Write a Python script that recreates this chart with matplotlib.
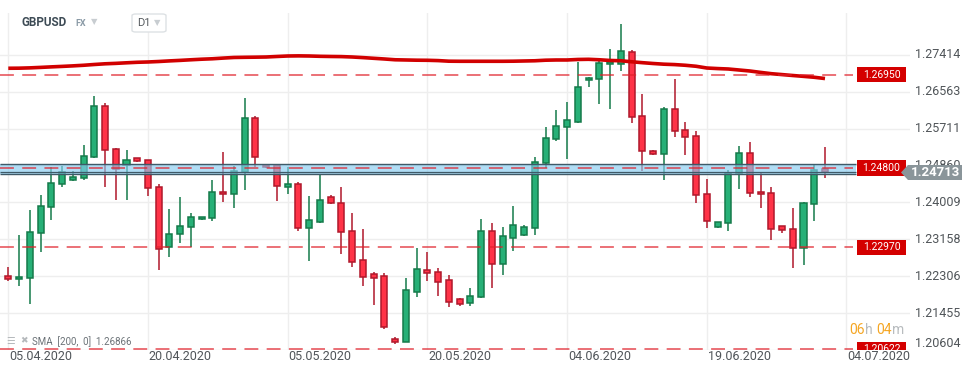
import matplotlib
matplotlib.use("Agg")
import matplotlib.pyplot as plt
import matplotlib.transforms as mtransforms
from matplotlib.patches import Rectangle, Polygon, FancyBboxPatch

plt.rcParams['font.family'] = ['Roboto', 'DejaVu Sans']
plt.rcParams['lines.scale_dashes'] = False

# GBPUSD daily candles
opens = [1.22310, 1.22233, 1.22256, 1.23295, 1.23895, 1.24425, 1.24518, 1.24564, 1.25048, 1.26225,
         1.25233, 1.24864, 1.25025, 1.24979, 1.24356, 1.22972, 1.23272, 1.23433, 1.23618, 1.23641,
         1.24241, 1.24195, 1.24718, 1.25948, 1.24864, 1.24864, 1.24371, 1.24425, 1.23410, 1.23564,
         1.24125, 1.23986, 1.23340, 1.22671, 1.22348, 1.22302, 1.20856, 1.20795, 1.21948, 1.22441,
         1.22394, 1.22210, 1.21771, 1.21695, 1.21818, 1.23348, 1.22579, 1.23179, 1.23248, 1.23410,
         1.24910, 1.25464, 1.25741, 1.25872, 1.26825, 1.26848, 1.27194, 1.27202, 1.27471, 1.25995,
         1.25187, 1.25118, 1.26156, 1.25672, 1.25533, 1.24195, 1.23433, 1.23526, 1.24679, 1.25141,
         1.24241, 1.24218, 1.23457, 1.23387, 1.22964, 1.23964, 1.24772]
highs = [1.22510, 1.23256, 1.23833, 1.24179, 1.24817, 1.24848, 1.24733, 1.25333, 1.26463, 1.26310,
         1.25256, 1.25217, 1.25033, 1.24994, 1.24433, 1.23856, 1.24141, 1.23756, 1.23672, 1.24525,
         1.25179, 1.24848, 1.26425, 1.26002, 1.24871, 1.24879, 1.24817, 1.24471, 1.24156, 1.24664,
         1.24179, 1.24371, 1.23771, 1.23394, 1.22394, 1.22371, 1.20895, 1.22256, 1.22948, 1.22864,
         1.22494, 1.22333, 1.21795, 1.22041, 1.23625, 1.23533, 1.23440, 1.23925, 1.23487, 1.25063,
         1.25741, 1.26133, 1.26318, 1.27256, 1.26910, 1.27333, 1.27540, 1.28125, 1.27525, 1.26510,
         1.25210, 1.26202, 1.26856, 1.25864, 1.25648, 1.24549, 1.23557, 1.24756, 1.25310, 1.25402,
         1.24679, 1.24364, 1.23457, 1.23880, 1.24010, 1.24887, 1.25287]
lows = [1.22203, 1.22087, 1.21656, 1.22872, 1.23602, 1.24371, 1.24510, 1.24525, 1.25040, 1.24371,
        1.24064, 1.24064, 1.24941, 1.24156, 1.22449, 1.22756, 1.23079, 1.22972, 1.23610, 1.23587,
        1.24025, 1.23887, 1.24294, 1.24833, 1.24810, 1.24048, 1.24194, 1.23356, 1.22664, 1.23541,
        1.23963, 1.22817, 1.22525, 1.22087, 1.21641, 1.21087, 1.20741, 1.20787, 1.21833, 1.22202,
        1.21856, 1.21602, 1.21625, 1.21625, 1.21810, 1.22041, 1.22333, 1.22894, 1.23240, 1.23263,
        1.24795, 1.25433, 1.25002, 1.25833, 1.26679, 1.26287, 1.26171, 1.27048, 1.25848, 1.24741,
        1.25102, 1.24533, 1.25518, 1.25110, 1.24003, 1.23426, 1.23426, 1.23357, 1.24318, 1.24141,
        1.23887, 1.23141, 1.23310, 1.22503, 1.22564, 1.23587, 1.24579]
closes = [1.22249, 1.22279, 1.23318, 1.23925, 1.24448, 1.24718, 1.24587, 1.25071, 1.26225, 1.25210,
          1.24771, 1.24987, 1.24971, 1.24333, 1.22926, 1.23272, 1.23464, 1.23664, 1.23664, 1.24241,
          1.24195, 1.24733, 1.25948, 1.25064, 1.24817, 1.24387, 1.24425, 1.23410, 1.23595, 1.24056,
          1.23986, 1.23317, 1.22641, 1.22294, 1.22271, 1.21141, 1.20795, 1.21979, 1.22471, 1.22371,
          1.22179, 1.21718, 1.21671, 1.21848, 1.23348, 1.22579, 1.23225, 1.23479, 1.23433, 1.24932,
          1.25487, 1.25764, 1.25902, 1.26664, 1.26871, 1.27225, 1.27256, 1.27494, 1.25971, 1.25187,
          1.25118, 1.26156, 1.25648, 1.25510, 1.24172, 1.23572, 1.23549, 1.24687, 1.25141, 1.24218,
          1.24195, 1.23387, 1.23364, 1.22964, 1.23987, 1.24756, 1.24713]

# SMA(200) per candle
sma = [1.27103, 1.27105, 1.27112, 1.27123, 1.27135, 1.27146, 1.27158, 1.27172, 1.27190, 1.27206,
       1.27216, 1.27229, 1.27241, 1.27248, 1.27259, 1.27273, 1.27285, 1.27299, 1.27312, 1.27322,
       1.27338, 1.27352, 1.27356, 1.27359, 1.27363, 1.27375, 1.27386, 1.27389, 1.27386, 1.27379,
       1.27375, 1.27372, 1.27363, 1.27349, 1.27333, 1.27317, 1.27299, 1.27294, 1.27289, 1.27287,
       1.27280, 1.27266, 1.27264, 1.27264, 1.27264, 1.27264, 1.27264, 1.27266, 1.27271, 1.27276,
       1.27289, 1.27294, 1.27294, 1.27306, 1.27310, 1.27299, 1.27283, 1.27276, 1.27253, 1.27232,
       1.27213, 1.27197, 1.27188, 1.27172, 1.27149, 1.27109, 1.27096, 1.27086, 1.27063, 1.27040,
       1.27008, 1.26978, 1.26957, 1.26936, 1.26916, 1.26895, 1.26866]

level_prices = [1.26950, 1.24800, 1.22970, 1.20622]
level_labels = ["1.26950", "1.24800", "1.22970", "1.20622"]
zone_top, zone_bottom = 1.24888, 1.24657
last_price = 1.24713

ytick_vals = [1.20604, 1.21455, 1.22306, 1.23158, 1.24009, 1.24860, 1.25711, 1.26563, 1.27414]
ytick_labels = ["1.20604", "1.21455", "1.22306", "1.23158", "1.24009", "1.24860", "1.25711", "1.26563", "1.27414"]
xtick_idx = [0, 13, 26, 39, 52, 65, 78]
xtick_labels = ["05.04.2020", "20.04.2020", "05.05.2020", "20.05.2020", "04.06.2020", "19.06.2020", "04.07.2020"]

W, H = 974, 375
fig = plt.figure(figsize=(W / 100, H / 100), dpi=100)
ax = fig.add_axes([0, 25 / H, 910 / W, 337 / H])
for s in ax.spines.values():
    s.set_visible(False)
ax.set_xlim(-0.772, 83.91)
ax.set_ylim(1.20603, 1.28378)

# grid
ax.set_yticks(ytick_vals)
ax.set_xticks(xtick_idx)
ax.tick_params(length=0, labelleft=False, labelbottom=False)
ax.grid(True, color="#eeeeee", lw=1)
ax.set_axisbelow(True)

# candles
idx = list(range(len(opens)))
for i in idx:
    o, h, l, c = opens[i], highs[i], lows[i], closes[i]
    up = c >= o
    face = "#27b077" if up else "#ff3347"
    edge = "#157a4a" if up else "#b0182b"
    ax.vlines(i, l, h, color=edge, lw=1.1, zorder=2)
    ax.add_patch(Rectangle((i - 0.28, min(o, c)), 0.56, abs(c - o), facecolor=face,
                           edgecolor=edge, lw=1.1, zorder=3))

# SMA 200
ax.plot(idx, sma, color="#d10000", lw=2.6, zorder=4, solid_capstyle="butt")

# blue zone with last price line
ax.add_patch(Rectangle((-0.772, zone_bottom), 79.7, zone_top - zone_bottom, facecolor="#86ccf0",
                       alpha=0.65, edgecolor="none", zorder=5))
ax.hlines([zone_top, zone_bottom], -0.772, 78.93, color="#3f5a68", lw=1.0, zorder=6)
ax.hlines(last_price, -0.772, 78.93, color="#3f5a68", lw=0.9, zorder=6)

# dashed levels + red price boxes
bt = mtransforms.blended_transform_factory(ax.transAxes, ax.transData)
for p, lab in zip(level_prices, level_labels):
    ax.hlines(p, -0.772, 78.6, color="#e0202a", lw=1.2, alpha=0.75, linestyles=(0, (10, 6)), zorder=7)
    ax.add_patch(Rectangle((857 / 910, p - 0.00175), 49 / 910, 0.0035, facecolor="#d40000",
                           edgecolor="none", transform=bt, zorder=8, clip_on=True))
    ax.text(881.5 / 910, p, lab, transform=bt, color="white", fontsize=7.5, ha="center",
            va="center", zorder=9, clip_on=True)

# y tick labels on the right
for v, lab in zip(ytick_vals, ytick_labels):
    yy = v + 0.00138 if v == ytick_vals[0] else v
    ax.text(915 / 910, yy, lab, transform=bt, color="#505559", fontsize=9, ha="left",
            va="center", clip_on=False)

# x tick labels
xt = mtransforms.blended_transform_factory(ax.transData, ax.transAxes)
for i, lab in zip(xtick_idx, xtick_labels):
    ax.text(i + 0.08, -0.018, lab, transform=xt, color="#505559", fontsize=9, ha="left",
            va="center", clip_on=False)


def fpos(x, y):
    return x / W, 1 - y / H


# current price tag
tag = [fpos(901, 172.5), fpos(908, 165), fpos(962, 165), fpos(962, 180), fpos(908, 180)]
fig.patches.append(Polygon(tag, closed=True, facecolor="#8a959a", edgecolor="none",
                           transform=fig.transFigure, zorder=10))
fig.text(*fpos(935, 172.5), "1.24713", color="white", fontsize=9.5, fontweight="bold",
         ha="center", va="center", zorder=11)

# header
fig.text(*fpos(21, 23), "GBPUSD", color="#3d4b55", fontsize=8.5, fontweight="bold", va="center")
fig.text(*fpos(75, 24), "FX", color="#8a9aa6", fontsize=6.5, fontweight="bold", va="center")
fig.text(*fpos(91, 22), "▼", color="#c8cdd1", fontsize=6, va="center")
fig.patches.append(FancyBboxPatch(fpos(132, 32), 34 / W, 18 / H, boxstyle="round,pad=0,rounding_size=0.004",
                                  facecolor="white", edgecolor="#dde1e4", lw=1,
                                  transform=fig.transFigure, zorder=10))
fig.text(*fpos(137, 23), "D1", color="#555a5e", fontsize=8, va="center", zorder=11)
fig.text(*fpos(154, 23), "▼", color="#c8cdd1", fontsize=6, va="center", zorder=11)

# indicator legend
fig.text(*fpos(6, 341), "☰", color="#b5b9bc", fontsize=7, va="center")
fig.text(*fpos(20, 341), "✖", color="#b5b9bc", fontsize=6.5, va="center")
fig.text(*fpos(32, 342), "SMA  [200,  0]  1.26866", color="#6b7277", fontsize=7, va="center")

# countdown
fig.text(*fpos(849, 330), "06", color="#f5a623", fontsize=10, va="center")
fig.text(*fpos(865, 330), "h", color="#b8bcbf", fontsize=10, va="center")
fig.text(*fpos(876, 330), "04", color="#f5a623", fontsize=10, va="center")
fig.text(*fpos(892, 330), "m", color="#b8bcbf", fontsize=10, va="center")

fig.savefig("out.png", dpi=100)
